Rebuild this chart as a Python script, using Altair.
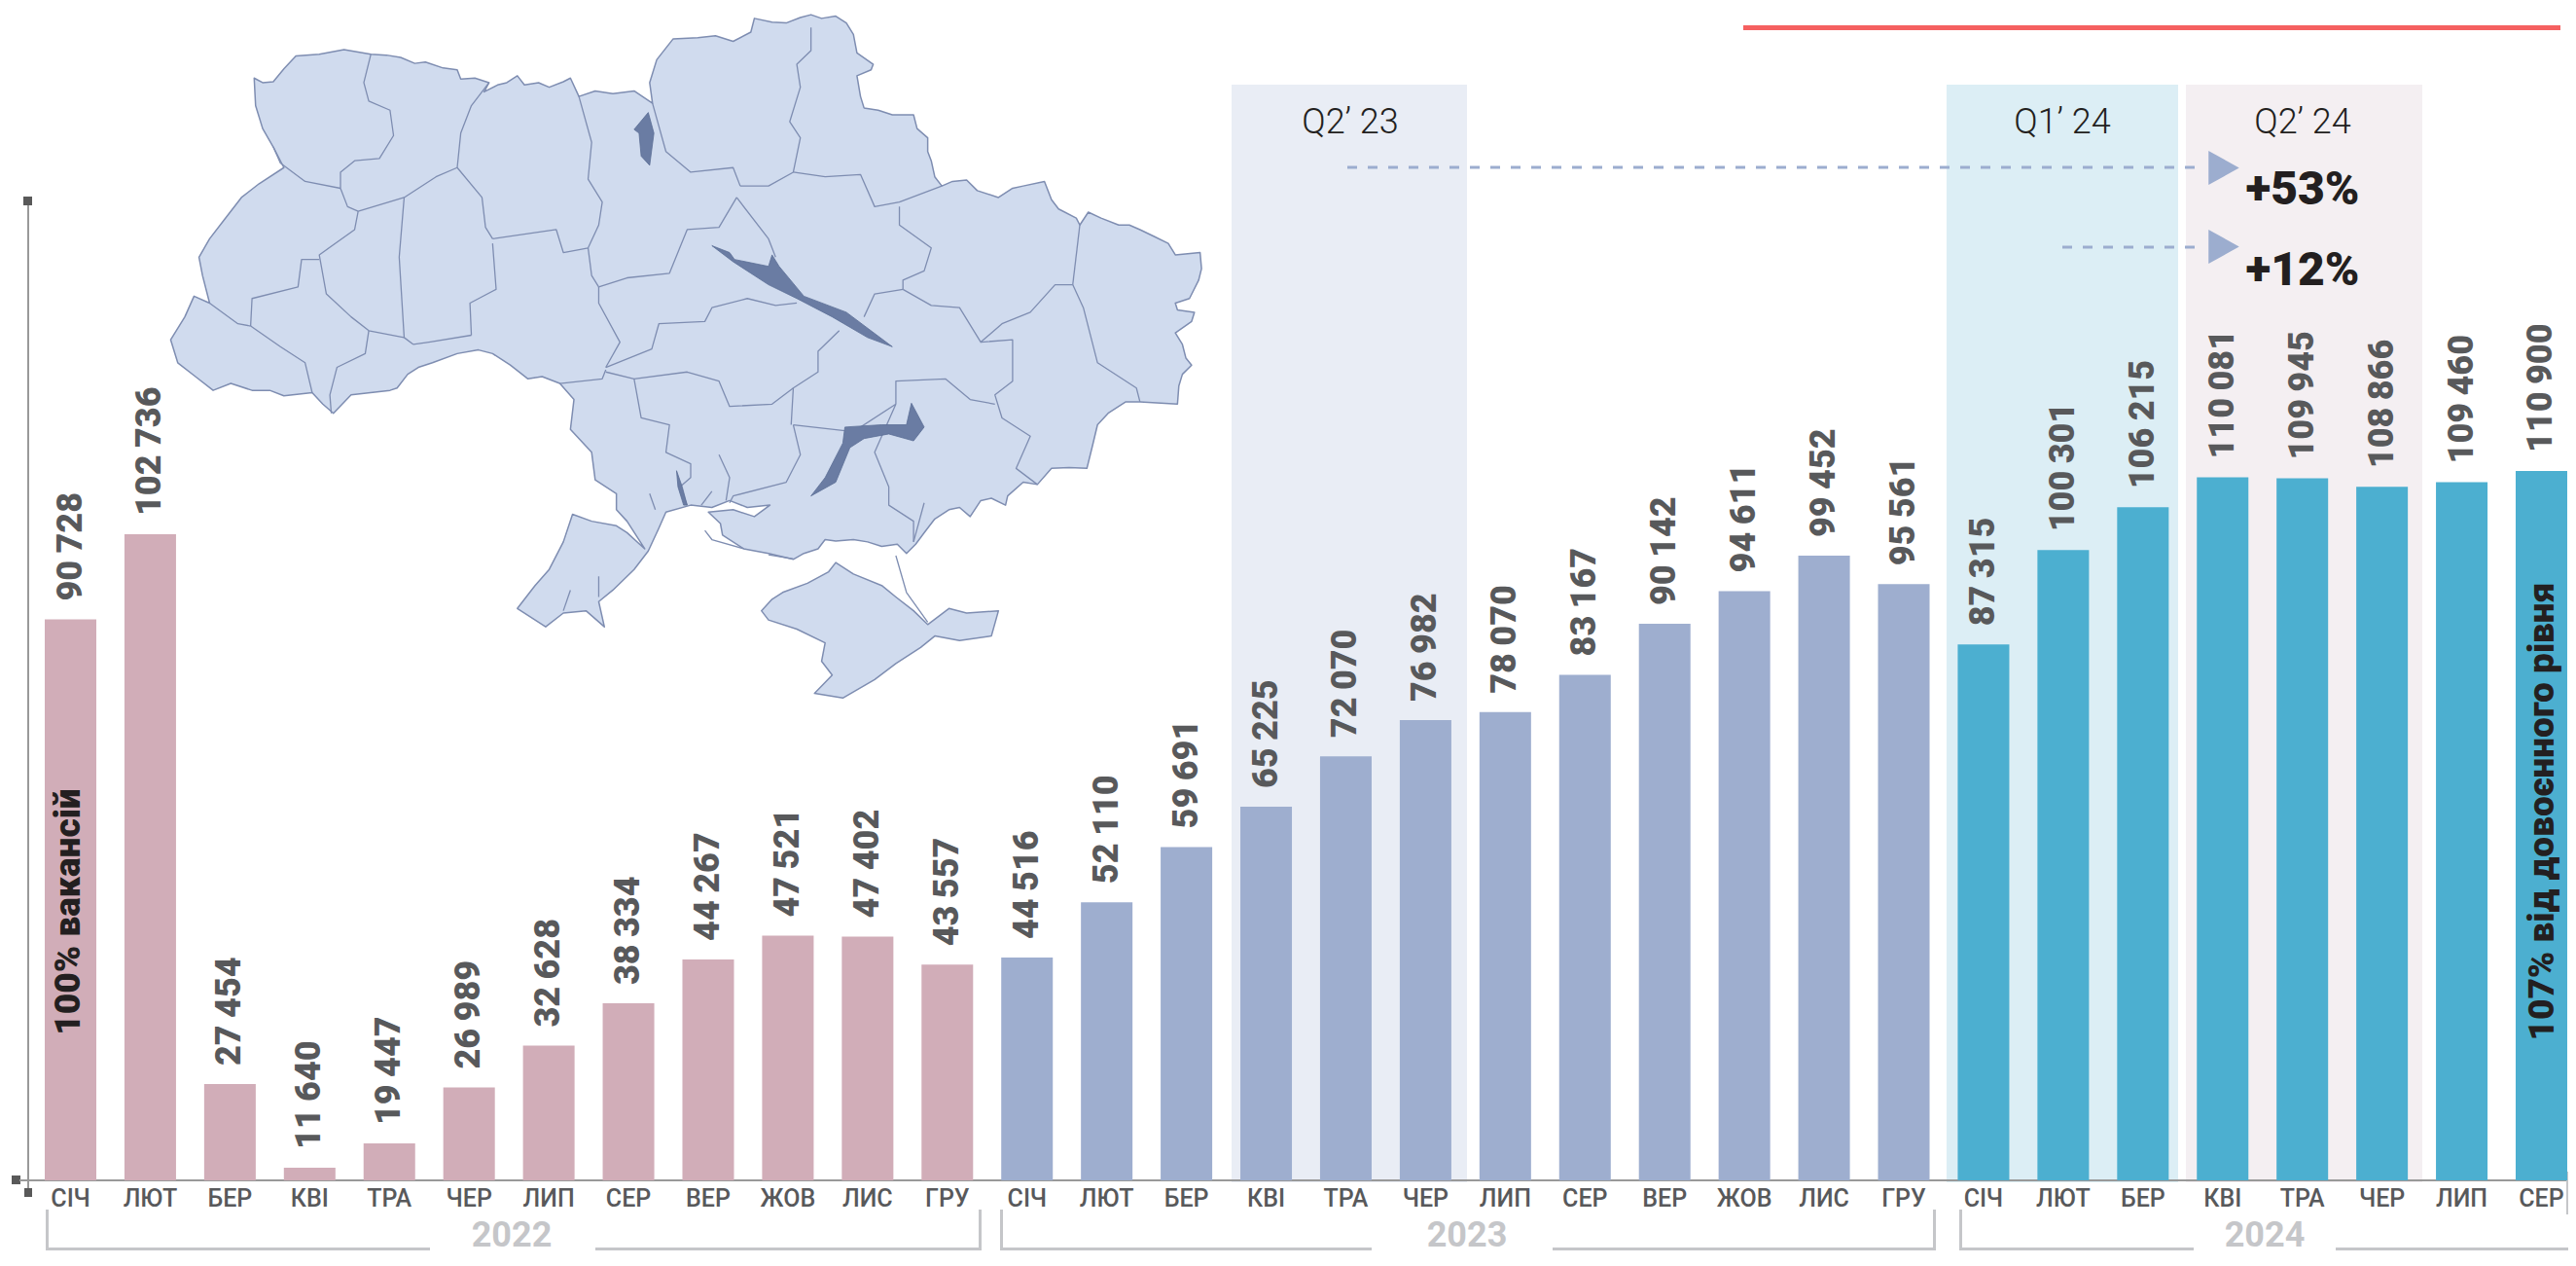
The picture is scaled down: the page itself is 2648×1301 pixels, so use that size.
import altair as alt
import pandas as pd

MONTHS = ["СІЧ","ЛЮТ","БЕР","КВІ","ТРА","ЧЕР","ЛИП","СЕР","ВЕР","ЖОВ","ЛИС","ГРУ"]
V2022 = [90728,102736,27454,11640,19447,26989,32628,38334,44267,47521,47402,43557]
V2023 = [44516,52110,59691,65225,72070,76982,78070,83167,90142,94611,99452,95561]
V2024 = [87315,100301,106215,110081,109945,108866,109460,110900]
YEARS = ["2022","2023","2024"]
YEAR_COLORS = ["#d1adb8","#9eaecf","#4cafd0"]

# map
OUTLINE = [(153,170),(165,180),(180,178),(195,150),(212,122),(245,118),(280,108),(318,118),(340,120),(360,125),(380,138),(395,135),(420,148),(440,152),(445,172),(465,170),(485,180),(478,200),(497,185),(510,180),(525,165),(535,185),(555,180),(570,190),(590,178),(600,170),(612,210),(635,198),(660,204),(690,198),(716,225),(712,180),(722,130),(745,85),(780,82),(805,78),(830,90),(855,70),(860,40),(885,48),(905,50),(925,38),(940,32),(955,40),(975,35),(990,50),(1000,75),(1005,115),(1028,140),(1025,152),(1005,165),(1010,210),(1015,235),(1035,240),(1055,250),(1085,250),(1090,280),(1105,300),(1105,330),(1110,350),(1115,385),(1125,405),(1140,395),(1160,392),(1175,415),(1205,430),(1225,410),(1240,405),(1270,395),(1280,435),(1290,455),(1315,475),(1320,490),(1332,462),(1350,475),(1375,490),(1390,490),(1405,500),(1425,515),(1445,530),(1455,555),(1490,550),(1492,585),(1488,610),(1475,650),(1455,660),(1458,675),(1482,680),(1478,700),(1455,725),(1465,750),(1470,780),(1478,795),(1465,815),(1460,840),(1458,880),(1405,875),(1385,875),(1360,900),(1345,925),(1338,970),(1330,1020),(1305,1018),(1280,1020),(1260,1055),(1240,1050),(1218,1080),(1215,1100),(1195,1085),(1180,1090),(1165,1125),(1150,1105),(1135,1110),(1115,1130),(1100,1160),(1088,1185),(1075,1205),(1062,1185),(1040,1190),(1020,1180),(1000,1175),(975,1178),(960,1175),(950,1195),(930,1205),(915,1218),(880,1205),(845,1195),(815,1165),(812,1140),(795,1115),(830,1110),(860,1125),(882,1100),(850,1105),(825,1090),(800,1105),(770,1100),(735,1115),(725,1150),(710,1200),(690,1240),(660,1285),(640,1310),(648,1365),(622,1330),(590,1335),(565,1365),(525,1325),(550,1275),(570,1240),(590,1180),(603,1120),(630,1135),(665,1145),(680,1160),(705,1195),(680,1135),(665,1110),(665,1075),(635,1045),(630,985),(600,935),(605,870),(585,835),(560,820),(540,825),(515,795),(490,770),(470,762),(440,770),(405,790),(385,800),(370,815),(355,845),(345,850),(290,860),(265,900),(250,880),(235,855),(195,862),(175,850),(150,850),(120,835),(95,850),(70,820),(45,790),(35,740),(45,715),(55,690),(68,645),(90,660),(80,600),(75,560),(90,520),(110,480),(135,430),(160,400),(195,365),(180,320),(165,280),(155,230)]
CRIMEA = [(870,1330),(885,1305),(900,1290),(935,1270),(965,1245),(975,1225),(1000,1250),(1040,1275),(1060,1300),(1085,1330),(1105,1360),(1135,1325),(1160,1335),(1205,1330),(1195,1385),(1150,1395),(1115,1385),(1095,1410),(1060,1445),(1030,1480),(985,1520),(945,1510),(970,1470),(955,1440),(960,1400),(920,1370),(880,1350)]
BORDERS = [
 [(318,118),(308,180),(315,220),(345,240),(350,295),(330,345),(295,350),(275,375),(275,410)],
 [(180,320),(190,355),(225,395),(275,410)],
 [(275,410),(285,450),(300,460),(365,430),(410,385),(440,365)],
 [(485,180),(460,230),(445,290),(440,365)],
 [(440,365),(475,430),(480,495),(490,520)],
 [(365,430),(358,560),(365,735),(378,750)],
 [(300,460),(295,500),(245,555),(255,640),(290,690),(315,720),(365,735)],
 [(245,565),(220,565),(215,625),(150,650),(148,710)],
 [(90,660),(130,705),(148,710)],
 [(148,710),(190,755),(225,790),(235,855)],
 [(315,720),(310,770),(270,800),(260,860),(262,900)],
 [(378,750),(400,745),(460,730)],
 [(460,730),(458,660),(495,630),(490,530)],
 [(490,520),(580,500),(590,550),(625,540),(630,600),(640,625)],
 [(612,210),(630,310),(625,390),(645,440),(640,490),(625,540)],
 [(640,625),(680,605),(740,595),(765,500),(810,495),(835,430)],
 [(716,225),(735,330),(770,375),(830,365),(840,405)],
 [(940,60),(940,110),(920,140),(925,190),(910,265),(925,300),(915,375),(880,405),(840,405)],
 [(835,430),(880,520),(890,560)],
 [(915,375),(960,385),(1010,380),(1030,450),(1065,440),(1125,405)],
 [(1065,450),(1065,490),(1110,540),(1100,590),(1070,610),(1070,630)],
 [(1320,490),(1310,620)],
 [(1070,630),(1110,665),(1150,670),(1180,745),(1210,705),(1250,680),(1285,620),(1310,620)],
 [(1015,690),(1030,640),(1070,630)],
 [(1310,620),(1325,670),(1345,790),(1400,845),(1405,875)],
 [(1180,745),(1225,740),(1225,830),(1200,860),(1210,910),(1250,950),(1230,1020),(1260,1055)],
 [(1060,880),(1060,830),(1130,825),(1165,870),(1200,880)],
 [(1060,880),(1030,985),(1050,1060),(1050,1100),(1085,1135),(1085,1180)],
 [(1060,880),(1000,940),(915,925)],
 [(915,925),(925,990),(905,1050),(830,1080),(825,1095)],
 [(980,720),(950,765),(950,810),(915,845),(912,925)],
 [(650,800),(715,760),(725,705),(790,700),(800,670),(850,650),(890,665),(920,660)],
 [(640,625),(640,660),(670,745),(650,800)],
 [(585,835),(645,825),(650,805)],
 [(650,810),(690,825),(700,910),(740,925),(735,985),(770,1010),(770,1040),(755,1060),(765,1100)],
 [(690,825),(765,810),(810,830),(825,885),(885,880),(915,845)],
 [(1060,1210),(1075,1290),(1105,1355)],
 [(790,1155),(800,1175),(845,1195)],
 [(880,1208),(915,1217)],
 [(712,1075),(720,1110)],
 [(785,1100),(800,1070)],
 [(810,990),(825,1040),(820,1090)],
 [(600,1285),(590,1330)],
 [(640,1255),(640,1300)],
 [(1100,1095),(1085,1180)],
]
RESERVOIRS = [
 [(710,245),(718,290),(712,360),(700,340),(697,290),(690,282)],
 [(800,535),(825,550),(832,565),(880,580),(885,555),(895,580),(930,645),(990,680),(1055,755),(1020,735),(970,690),(920,650),(880,620),(830,570)],
 [(1082,878),(1100,930),(1085,960),(1050,945),(1015,955),(995,975),(975,1050),(940,1080),(960,1040),(985,965),(988,930),(1040,925),(1075,925)],
 [(750,1025),(758,1060),(765,1100),(760,1100),(752,1060)],
]

def mp(pts):
    return [[150 + u / 1.375 - 8, v / 2.119 - 8] for u, v in pts]

def poly(pts):
    c = mp(pts)
    return {"type": "Feature", "properties": {}, "geometry": {"type": "Polygon", "coordinates": [c + [c[0]]]}}

def geo(features):
    return alt.InlineData(values={"type": "FeatureCollection", "features": features},
                          format=alt.DataFormat(property="features", type="json"))

PROJ = {"type": "identity", "scale": 1, "translate": [0, 0]}
MAP_STROKE = "#7e8db1"
land = alt.Chart(geo([poly(OUTLINE), poly(CRIMEA)])).mark_geoshape(
    fill="#d0dbee", stroke=MAP_STROKE, strokeWidth=1.5, strokeJoin="round").project(**PROJ)
borders = alt.Chart(geo([{"type": "Feature", "properties": {}, "geometry": {"type": "LineString", "coordinates": mp(b)}} for b in BORDERS])).mark_geoshape(
    filled=False, stroke=MAP_STROKE, strokeWidth=1.3, strokeJoin="round").project(**PROJ)
res = alt.Chart(geo([poly(r) for r in RESERVOIRS])).mark_geoshape(
    fill="#6a7ca3", stroke="#5c6e96", strokeWidth=0.8).project(**PROJ)

rows = []
for yr, mons, vals in zip(YEARS, [MONTHS, MONTHS, MONTHS[:8]], [V2022, V2023, V2024]):
    for m, v in zip(mons, vals):
        rows.append({"key": f"{yr}-{m}", "year": yr, "month": m, "value": v,
                     "label": f"{v // 1000}\u2009{v % 1000:03d}"})
df = pd.DataFrame(rows)

one = pd.DataFrame({"a": [0]})
OX, OY = 8, 8  # page margin

def box(x1, x2, y1, y2, color):
    return alt.Chart(one).mark_rect(color=color).encode(
        x=alt.value(x1 - OX), x2=alt.value(x2 - OX), y=alt.value(y1 - OY), y2=alt.value(y2 - OY))

def note(text, x, y, size, color, font, weight="normal", angle=0):
    return alt.Chart(one).mark_text(text=text, fontSize=size, color=color, font=font, fontWeight=weight,
                                    angle=angle, align="center", baseline="middle").encode(
        x=alt.value(x - OX), y=alt.value(y - OY))

def dash(x1, x2, y):
    return alt.Chart(one).mark_rule(color="#9cadcf", strokeWidth=3, strokeDash=[10, 11]).encode(
        x=alt.value(x1 - OX), x2=alt.value(x2 - OX), y=alt.value(y - OY))

def tri(x, y):
    return alt.Chart(one).mark_point(filled=True, opacity=1, color="#9cadcf", size=1225,
                                     shape="M-0.9,-1L0.9,0L-0.9,1Z").encode(
        x=alt.value(x - OX), y=alt.value(y - OY))

xs = alt.X("key:N", axis=None, sort=None,
           scale=alt.Scale(type="band", domain=df["key"].tolist(), range=[46 - OX, 2639 - OX],
                           paddingInner=0.353, paddingOuter=0))
BASE = 1213
KNOTS = [0, 11640, 19447, 44516, 65225, 76982, 90142, 99452, 102736, 110900]
KNOT_H = [0, 13, 38, 229, 384, 473, 572, 642, 664, 729]
ys = alt.Y("value:Q", axis=None,
           scale=alt.Scale(domain=KNOTS, range=[BASE - OY - h for h in KNOT_H], nice=False, zero=False))

bars = alt.Chart(df).mark_bar(opacity=1).encode(
    x=xs, y=ys,
    color=alt.Color("year:N", legend=None, scale=alt.Scale(domain=YEARS, range=YEAR_COLORS)))
vals = alt.Chart(df).mark_text(angle=270, align="left", baseline="middle", dx=19, fontSize=36,
                               font="Roboto", fontWeight=900, color="#58595b").encode(
    x=xs, y=ys, text="label:N")
months = alt.Chart(df).mark_text(baseline="middle", fontSize=25, font="Roboto", fontWeight=500,
                                 color="#58595b").encode(
    x=xs, y=alt.value(1232 - OY), text="month:N")

GREY = "#c5c6c9"
INK = "#231f20"
layers = [
    box(1266, 1508, 87, 1215, "#e9edf5"),
    box(2001, 2239, 87, 1215, "#dceef5"),
    box(2247, 2490, 87, 1215, "#f4eff2"),
    land, borders, res,
    box(1792, 2632, 26, 31, "#f56060"),
    note("Q2’ 23", 1388, 126, 36, INK, "Roboto", 300),
    note("Q1’ 24", 2120, 126, 36, INK, "Roboto", 300),
    note("Q2’ 24", 2367, 126, 36, INK, "Roboto", 300),
    dash(1385, 2266, 172), dash(2120, 2266, 254),
    tri(2286, 172.5), tri(2286, 253.5),
    note("+53%", 2367, 196, 48, INK, "Roboto", 900),
    note("+12%", 2367, 279, 48, INK, "Roboto", 900),
    # axes
    box(28, 30, 207, 1222, "#999999"),
    box(24, 33, 202, 211, "#595959"),
    box(12, 21, 1208, 1217, "#595959"),
    box(25, 33, 1221, 1230, "#595959"),
    box(20, 2640, 1212, 1214, "#999999"),
    box(2638, 2640, 1204, 1248, GREY),
    bars, vals, months,
    note("100% вакансій", 71, 937, 37, INK, "Roboto", 900, 270),
    note("107% від довоєнного рівня", 2614, 834, 37, INK, "Roboto", 900, 270),
]
# year brackets
for x1, s1, s2, x2, cx, yr, right in [(48, 442, 612, 1008, 526, "2022", True),
                                      (1029, 1410, 1596, 1989, 1508, "2023", True),
                                      (2015, 2255, 2401, 2640, 2328, "2024", False)]:
    layers += [box(x1 - 1, x1 + 2, 1243, 1285, GREY),
               box(x1, s1, 1282, 1285, GREY),
               box(s2, x2, 1282, 1285, GREY),
               note(yr, cx, 1270, 36, GREY, "Roboto", 700)]
    if right:
        layers.append(box(x2 - 2, x2 + 1, 1243, 1285, GREY))

chart = alt.layer(*layers).resolve_scale(color="independent").properties(
    width=2632, height=1285, padding=0, autosize=alt.AutoSizeParams(type="none")
).configure_view(stroke=None)

chart.save("out.html", embed_options={"renderer": "svg", "actions": False})
